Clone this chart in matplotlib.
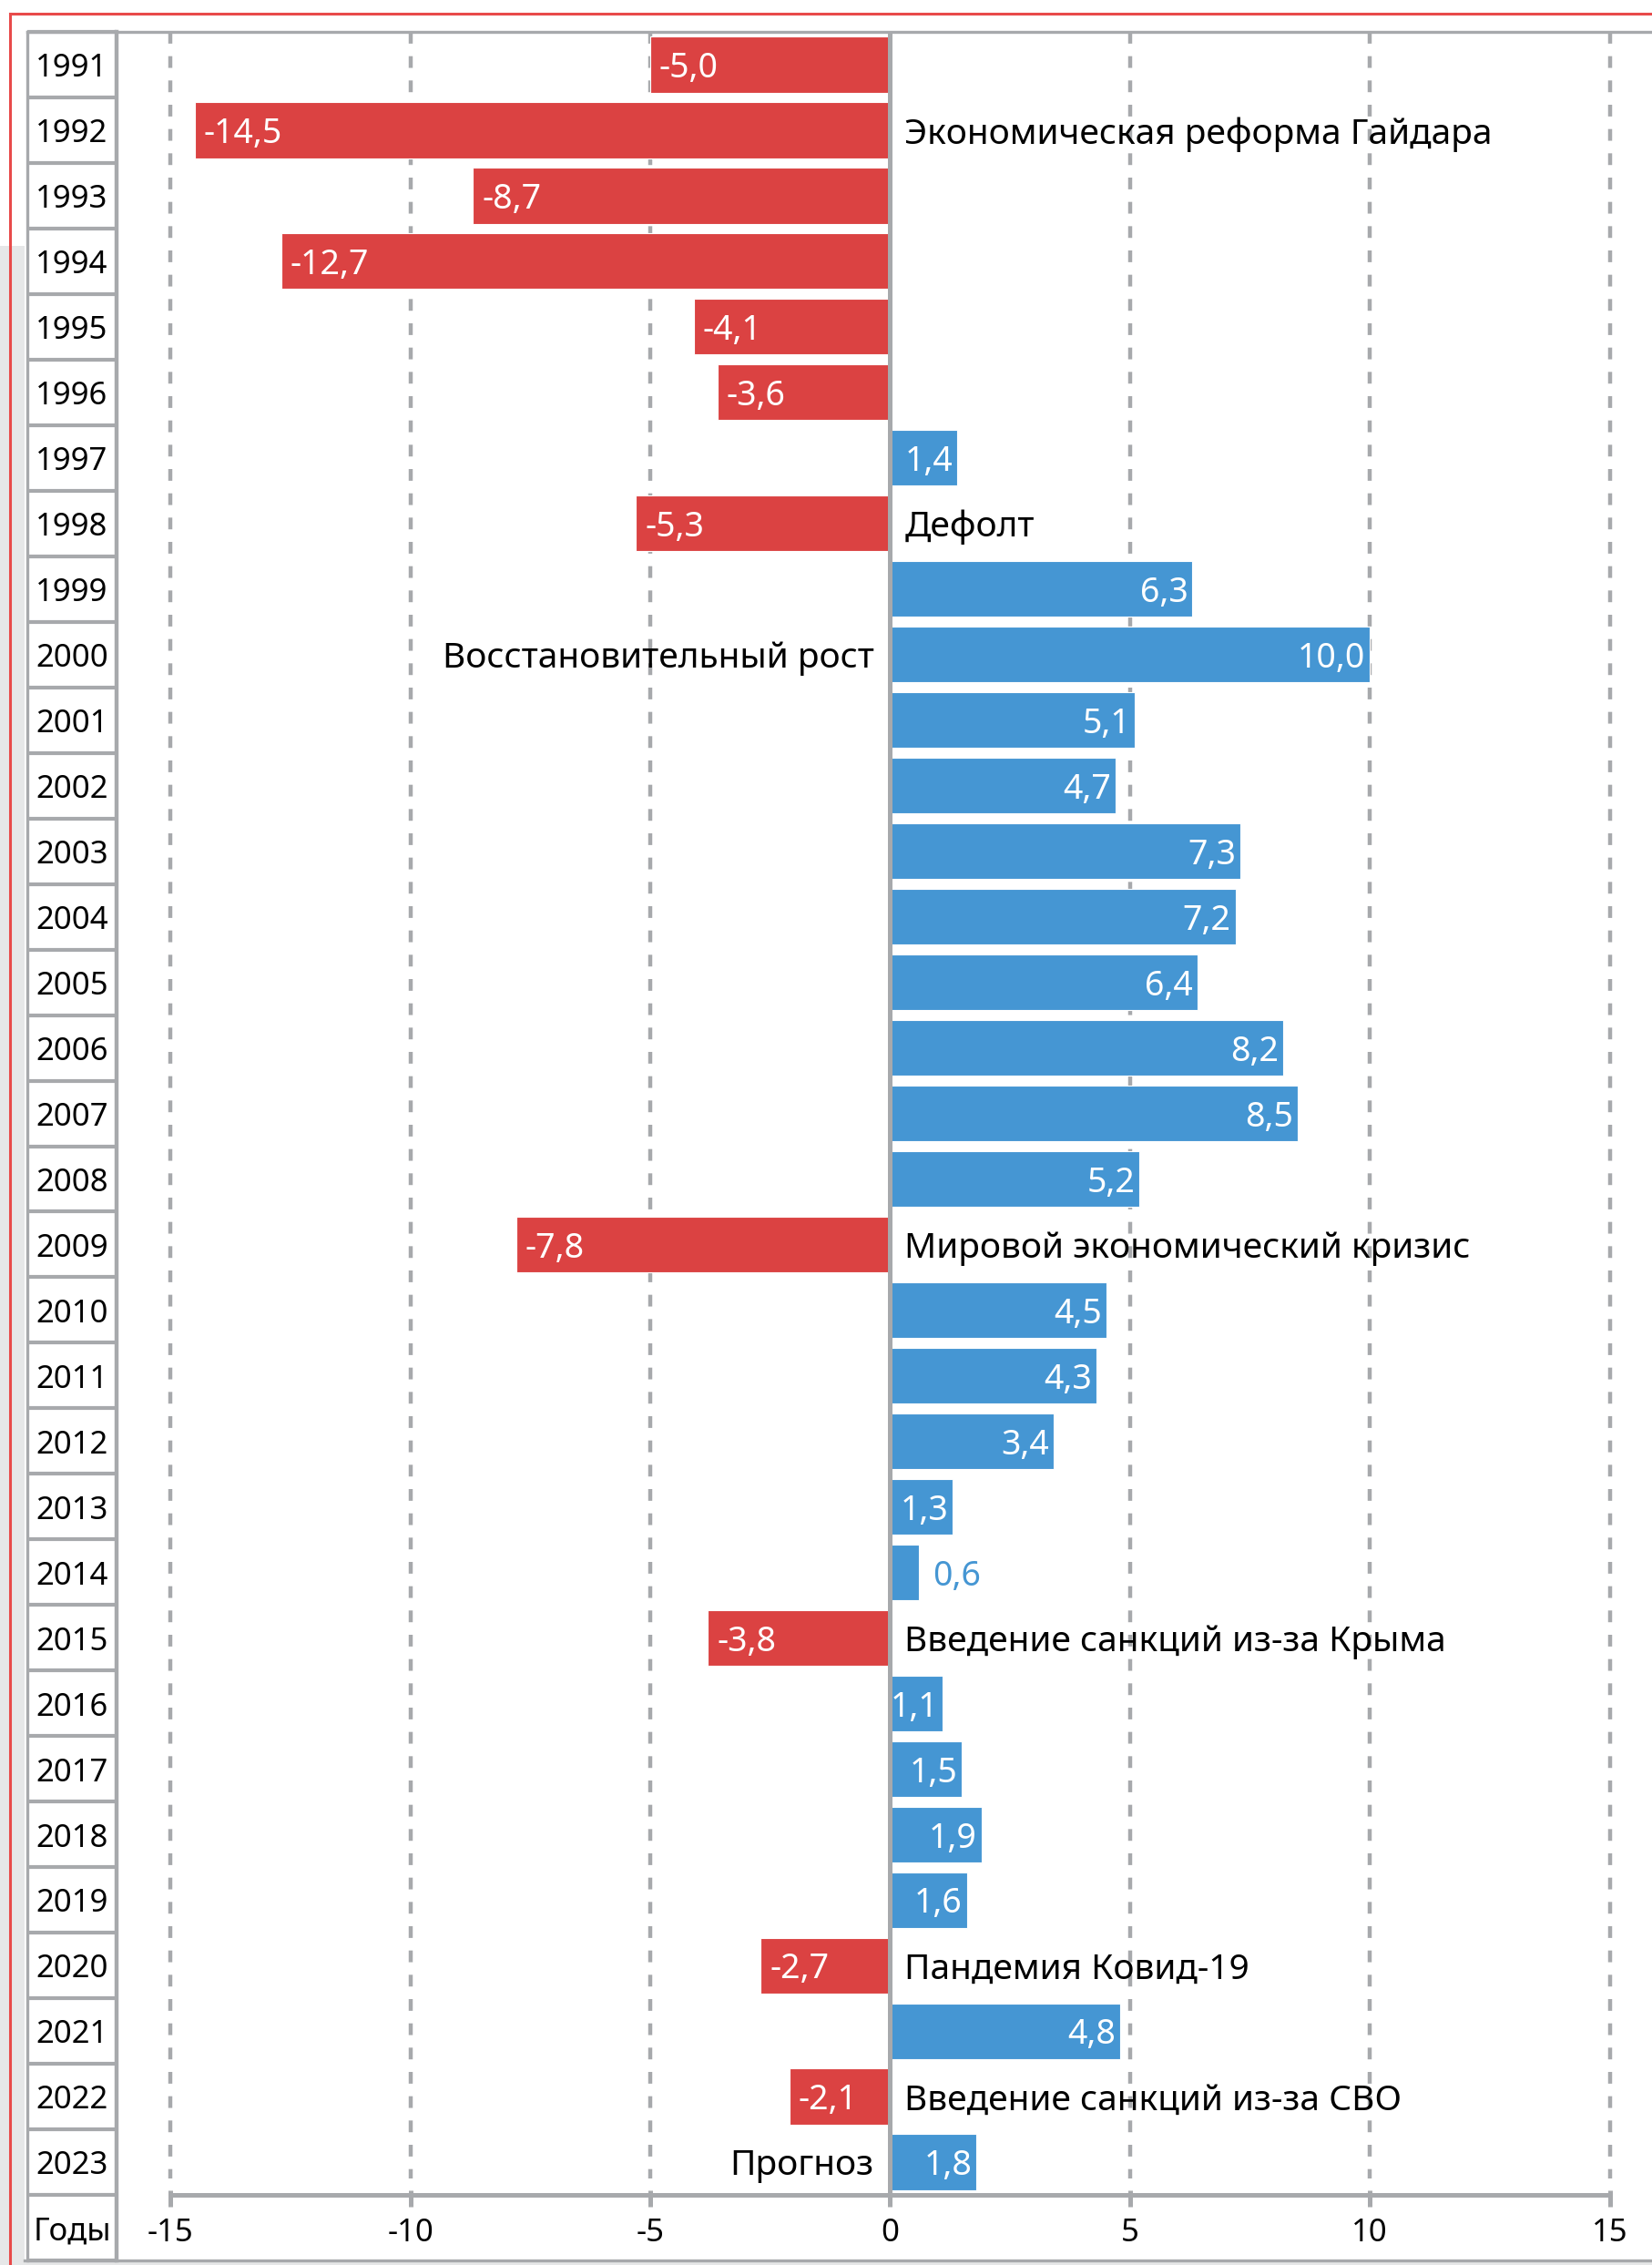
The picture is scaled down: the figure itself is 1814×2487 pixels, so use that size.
import matplotlib.pyplot as plt
from matplotlib.patches import Rectangle
from matplotlib.lines import Line2D

plt.rcParams['font.family'] = ['Noto Sans', 'DejaVu Sans']

years = list(range(1991, 2024))
growth = [-5.0, -14.5, -8.7, -12.7, -4.1, -3.6, 1.4, -5.3, 6.3, 10.0,
          5.1, 4.7, 7.3, 7.2, 6.4, 8.2, 8.5, 5.2, -7.8, 4.5,
          4.3, 3.4, 1.3, 0.6, -3.8, 1.1, 1.5, 1.9, 1.6, -2.7,
          4.8, -2.1, 1.8]
events = {
    1992: ("Экономическая реформа Гайдара", "right"),
    1998: ("Дефолт", "right"),
    2000: ("Восстановительный рост", "left"),
    2009: ("Мировой экономический кризис", "right"),
    2015: ("Введение санкций из-за Крыма", "right"),
    2020: ("Пандемия Ковид-19", "right"),
    2022: ("Введение санкций из-за СВО", "right"),
    2023: ("Прогноз", "left"),
}
xticks = [-15, -10, -5, 0, 5, 10, 15]
year_col_title = "Годы"

RED = '#db4242'
BLUE = '#4596d3'
GRID = '#a7a9ac'
PAGE = '#e6e7e8'
BORDER = '#e84a4a'

W, H = 1814, 2487
fig = plt.figure(figsize=(W / 100, H / 100), dpi=100)


def fx(px):
    return px / W


def fy(py):
    return 1 - py / H


# page background pieces around the chart box
fig.add_artist(Rectangle((0, 0), fx(27), fy(270), transform=fig.transFigure,
                         facecolor=PAGE, edgecolor='none', zorder=0))
fig.add_artist(Rectangle((0, 0), 1, fy(2484), transform=fig.transFigure,
                         facecolor=PAGE, edgecolor='none', zorder=0))
fig.add_artist(Line2D([fx(11), fx(11)], [0, fy(15)], transform=fig.transFigure,
                      color=BORDER, lw=2.2))
fig.add_artist(Line2D([fx(11), 1], [fy(15), fy(15)], transform=fig.transFigure,
                      color=BORDER, lw=2.2))

n = len(years)
top, bottom = 35, 2482
left, table_left = 128, 30
dy = 0.06  # small downward nudge so text sits like the original

ax = fig.add_axes([fx(left), fy(bottom), fx(W - left), (bottom - top) / H])
xmin = -15 - (187.5 - left) / 52.667
xmax = 15 + (W - 1767.5) / 52.667
ax.set_xlim(xmin, xmax)
ax.set_ylim(n + 0.5, -0.5)
ax.axis('off')

rows = list(range(n))
# dashed grid
for t in xticks:
    if t != 0:
        ax.plot([t, t], [-0.5, n - 0.75], color=GRID, lw=3.2,
                linestyle=(0, (2.9, 3.1)), zorder=1, solid_capstyle='butt')

colors = [RED if v < 0 else BLUE for v in growth]
ax.barh(rows, growth, height=0.85, color=colors, edgecolor='white',
        linewidth=0.8, zorder=2)

# zero line
ax.plot([0, 0], [-0.5, n - 0.5], color=GRID, lw=3.6, zorder=3)

# bottom axis with ticks
ax.plot([xticks[0], xticks[-1]], [n - 0.5, n - 0.5], color=GRID, lw=3.6,
        zorder=3, solid_capstyle='butt')
for t in xticks:
    ax.plot([t, t], [n - 0.57, n - 0.32], color=GRID, lw=3.6, zorder=3,
            solid_capstyle='butt')
    ax.text(t, n + 0.03 + dy, str(t), ha='center', va='center', fontsize=25,
            color='black')

# value labels
for r, v in zip(rows, growth):
    s = f"{v:.1f}".replace('.', ',')
    if abs(v) < 1.0:
        ax.annotate(s, (v, r + dy), xytext=(11, 0), textcoords='offset points',
                    ha='left', va='center', fontsize=27, color=BLUE, zorder=4)
    elif v < 0:
        ax.annotate(s, (v, r + dy), xytext=(7, 0), textcoords='offset points',
                    ha='left', va='center', fontsize=27, color='white', zorder=4)
    else:
        ax.annotate(s, (v, r + dy), xytext=(-3.5, 0), textcoords='offset points',
                    ha='right', va='center', fontsize=27, color='white', zorder=4)

# event annotations
for yr, (txt, side) in events.items():
    r = years.index(yr)
    if side == 'right':
        ax.annotate(txt, (0, r + dy), xytext=(11.5, 0), textcoords='offset points',
                    ha='left', va='center', fontsize=28, color='black', zorder=4)
    else:
        ax.annotate(txt, (0, r + dy), xytext=(-13, 0), textcoords='offset points',
                    ha='right', va='center', fontsize=28, color='black', zorder=4)

# top and bottom frame lines
fig.add_artist(Line2D([fx(table_left), 1], [fy(top), fy(top)],
                      transform=fig.transFigure, color=GRID, lw=2.4))
fig.add_artist(Line2D([fx(27), 1], [fy(bottom), fy(bottom)],
                      transform=fig.transFigure, color=GRID, lw=2.4))

# year table on the left
tab = fig.add_axes([fx(table_left), fy(bottom), fx(left - table_left),
                    (bottom - top) / H])
tab.set_xlim(0, 1)
tab.set_ylim(n + 0.5, -0.5)
tab.axis('off')
for r, yr in enumerate(years):
    tab.text(0.5, r + dy, str(yr), ha='center', va='center', fontsize=25,
             color='black')
tab.text(0.5, n + dy, year_col_title, ha='center', va='center', fontsize=25,
         color='black')
for k in range(n + 2):
    tab.plot([0, 1], [k - 0.5, k - 0.5], color=GRID, lw=3, clip_on=False,
             solid_capstyle='butt')
tab.plot([0, 0], [-0.5, n + 0.5], color=GRID, lw=2.4, clip_on=False)
tab.plot([1, 1], [-0.5, n + 0.5], color=GRID, lw=3.2, clip_on=False)

fig.savefig('out.png', dpi=100, facecolor='white')
